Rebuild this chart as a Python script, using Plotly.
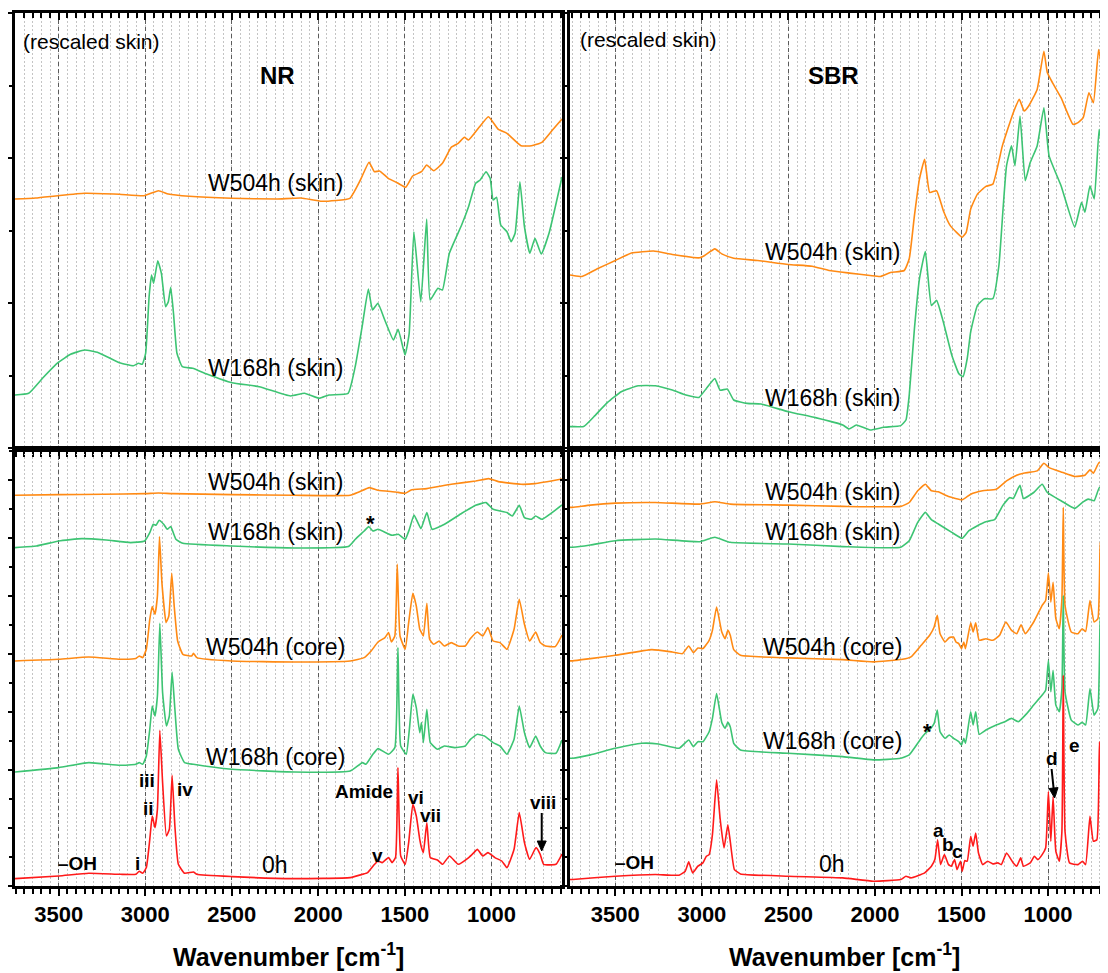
import math
import plotly.graph_objects as go

# ---------------- data: (wavenumber cm-1, absorbance a.u., stacked) ----------------
# NR, top panel (rescaled skin)
nr_top_w504 = [(3753, 250), (3634, 251), (3505, 253.3), (3351, 255.7), (3150, 254.7), (3008, 253.3), (2924, 258.3),
               (2867, 255), (2746, 252.7), (2500, 250.7), (2242, 250), (2100, 251), (1979, 247.7), (1818, 250.7),
               (1757, 269), (1707, 286.7), (1676, 277.3), (1646, 278), (1596, 270.7), (1545, 266.3), (1495, 261.7),
               (1455, 273), (1404, 277.3), (1374, 284), (1333, 278.3), (1283, 285.7), (1232, 301.7), (1192, 305.7),
               (1156, 311.7), (1132, 309), (1071, 321.7), (1017, 332.3), (960, 319.7), (910, 315.7), (829, 303.3),
               (768, 303.3), (708, 306.7), (647, 319), (592, 330)]
nr_top_w168 = [(3753, 54), (3674, 55.7), (3594, 70.7), (3505, 86.3), (3432, 94.7), (3351, 99), (3271, 96.3),
               (3150, 86.3), (3069, 83.3), (3039, 85.7), (3018, 84.7), (2998, 95.7), (2978, 152.3), (2964, 174),
               (2952, 165.7), (2928, 188.3), (2907, 175.7), (2883, 142.3), (2867, 147.3), (2853, 161.7),
               (2837, 135.7), (2817, 95.7), (2786, 82.3), (2726, 80.7), (2645, 75), (2500, 66.3), (2342, 62.3),
               (2161, 53), (2080, 55.7), (1995, 50.7), (1939, 54), (1828, 55.7), (1787, 82.3), (1747, 122.3),
               (1711, 160), (1687, 139), (1656, 145.7), (1616, 129), (1566, 109), (1539, 119.7), (1499, 94),
               (1475, 115.7), (1448, 217.3), (1408, 147.3), (1374, 230), (1354, 149), (1309, 160.7), (1283, 159),
               (1243, 195.7), (1172, 224), (1132, 242.3), (1091, 265.7), (1065, 269), (1031, 277.3), (1007, 270.7),
               (990, 249), (970, 251.7), (946, 224), (910, 217.3), (886, 207.3), (863, 215.7), (835, 267.3),
               (809, 222.3), (778, 195.7), (748, 210.7), (712, 195), (667, 215.7), (592, 272)]

# SBR, top panel (rescaled skin)
sbr_top_w504 = [(3762, 174), (3746, 173.5), (3693, 172.5), (3604, 180.2), (3500, 188.5), (3407, 196), (3279, 198),
                (3171, 194.5), (3013, 191.2), (2984, 193.5), (2925, 200.1), (2885, 195.1), (2816, 190.8),
                (2678, 188.5), (2501, 184.5), (2363, 182.8), (2265, 178.5), (2147, 175.9), (2028, 173.5),
                (1969, 172.5), (1910, 176.5), (1831, 178.5), (1802, 190.2), (1772, 233.3), (1743, 269.9),
                (1713, 289.8), (1684, 256.6), (1644, 258.3), (1605, 238.3), (1565, 223.4), (1496, 211.8),
                (1473, 216.7), (1447, 240), (1408, 254.9), (1359, 262.6), (1319, 264.9), (1264, 303.1),
                (1201, 336.3), (1166, 349.6), (1138, 338), (1112, 343), (1063, 359.6), (1024, 397.8), (1004, 376.2),
                (974, 366.2), (925, 351.3), (856, 324.7), (827, 326.4), (797, 331.3), (764, 356.3), (738, 346.3),
                (708, 399.5), (689, 382.8), (671, 396)]
sbr_top_w168 = [(3762, 22.4), (3746, 22.4), (3683, 22.4), (3624, 32.3), (3545, 46.6), (3466, 57.3), (3368, 63.2),
                (3269, 63.2), (3171, 58.9), (3092, 53.9), (3017, 51.6), (2974, 60.6), (2925, 70.5), (2895, 58.9),
                (2852, 59.9), (2816, 49), (2738, 45.6), (2659, 45), (2501, 37.3), (2344, 31.4), (2186, 24),
                (2150, 20), (2107, 24), (2028, 19), (1950, 21.7), (1851, 23.4), (1821, 29), (1802, 53.9),
                (1772, 120.4), (1743, 170.2), (1709, 197.5), (1674, 143.6), (1644, 148.6), (1605, 127),
                (1556, 93.8), (1516, 75.5), (1492, 72.2), (1467, 90.5), (1447, 117.1), (1408, 143.6), (1368, 150.3),
                (1319, 150.3), (1284, 183.5), (1260, 240), (1240, 283.2), (1211, 303.1), (1191, 283.2), (1162, 333),
                (1132, 268.2), (1103, 286.5), (1063, 303.1), (1024, 341.3), (994, 293.1), (925, 263.2),
                (846, 221.7), (807, 246.6), (787, 236.7), (758, 263.2), (733, 250), (705, 319.7), (683, 296.5),
                (671, 303)]

# NR, bottom panel
nr_bot_w504s = [(3753, 390.7), (3500, 391.4), (3246, 391.7), (3000, 392.4), (2924, 393), (2843, 392.4),
                (2500, 391.4), (2138, 390.7), (1816, 390.7), (1766, 394), (1705, 398.4), (1655, 395.7),
                (1554, 394), (1498, 392.7), (1464, 396), (1373, 397.4), (1232, 401.7), (1091, 405), (1016, 407.4),
                (960, 404.4), (829, 401.7), (748, 402.4), (592, 407)]
nr_bot_w168s = [(3753, 338.4), (3629, 340), (3500, 345), (3367, 347.4), (3226, 346), (3085, 343.4), (3004, 345),
                (2974, 353.4), (2954, 361.7), (2938, 360.7), (2920, 365.7), (2894, 361.7), (2873, 356.7),
                (2853, 359.4), (2823, 346.7), (2783, 342.7), (2500, 340), (2138, 338), (1826, 339.4), (1786, 346.7),
                (1735, 355), (1709, 359.4), (1685, 355), (1655, 356.7), (1574, 350.7), (1538, 351.7), (1498, 346.7),
                (1474, 356.7), (1447, 371), (1407, 357.4), (1373, 373.4), (1343, 356.7), (1271, 361.7),
                (1171, 372.7), (1091, 380.7), (1031, 383.4), (990, 376.7), (910, 373.4), (879, 370), (839, 380.7),
                (809, 368.4), (768, 366.7), (744, 370), (708, 366.7), (592, 381)]
nr_bot_w504c = [(3753, 225), (3500, 226.7), (3327, 229), (3145, 226.7), (3055, 227.4), (3035, 230), (3015, 228.4),
                (2994, 236.7), (2974, 266.7), (2960, 279.4), (2944, 271.7), (2930, 290), (2918, 349.4),
                (2904, 303.4), (2880, 263.4), (2864, 270), (2847, 312.7), (2833, 280), (2813, 245), (2783, 231.7),
                (2732, 230), (2722, 232.7), (2702, 228.4), (2500, 225), (2138, 224), (1816, 225), (1735, 228.4),
                (1695, 235), (1655, 244), (1615, 248.4), (1594, 253.4), (1578, 244), (1558, 250), (1544, 321.7),
                (1528, 250), (1498, 236.7), (1478, 263.4), (1454, 292.7), (1434, 280), (1414, 256.7),
                (1404, 253.4), (1393, 250), (1373, 282.7), (1357, 246.7), (1333, 241.7), (1302, 245), (1272, 240),
                (1232, 243.4), (1192, 240), (1151, 240), (1121, 247.4), (1081, 254), (1050, 250), (1020, 258.4),
                (990, 245), (950, 243.4), (910, 236.7), (869, 256.7), (839, 286.7), (809, 261.7), (779, 245),
                (744, 254), (718, 243.4), (688, 240), (631, 239.4), (592, 251)]
nr_bot_w168c = [(3753, 114), (3500, 118.4), (3327, 123.4), (3145, 120.7), (3055, 121.7), (3035, 123.4),
                (3015, 121.7), (2994, 130), (2974, 156.7), (2960, 180), (2944, 170), (2930, 190), (2916, 262.7),
                (2900, 193.4), (2878, 160), (2861, 170), (2845, 214), (2829, 176.7), (2809, 136.7), (2773, 123.4),
                (2722, 121.7), (2500, 116.7), (2138, 114), (1816, 115), (1745, 123.4), (1725, 121.7), (1685, 131.7),
                (1655, 137.4), (1594, 131.7), (1558, 138.4), (1540, 238.4), (1524, 140), (1492, 131.7),
                (1474, 156.7), (1454, 191.7), (1434, 178.4), (1414, 153.4), (1404, 163.4), (1393, 143.4),
                (1373, 176.7), (1353, 143.4), (1312, 136.7), (1272, 140), (1212, 138.4), (1151, 140), (1121, 146.7),
                (1081, 151.7), (1040, 150), (990, 143.4), (950, 140), (910, 131.7), (869, 146.7), (839, 180),
                (809, 153.4), (779, 138.4), (744, 150), (718, 140), (688, 133.4), (627, 132.7), (592, 146)]
nr_bot_0h = [(3753, 7.4), (3500, 10), (3327, 12.7), (3145, 11.7), (3055, 11.7), (3035, 14.7), (3015, 12.7),
             (2994, 18.4), (2974, 46.7), (2960, 70), (2944, 58.4), (2930, 76.7), (2916, 155.7), (2900, 103.4),
             (2878, 50), (2861, 56.7), (2845, 110.7), (2829, 60), (2809, 21.7), (2773, 12.7), (2722, 14),
             (2702, 11.7), (2500, 9.4), (2138, 7.4), (1816, 8.4), (1745, 11.7), (1715, 13.4), (1675, 21.7),
             (1655, 25), (1631, 23.4), (1594, 28.4), (1574, 23.4), (1554, 28.4), (1540, 118.4), (1524, 30),
             (1498, 21.7), (1478, 43.4), (1454, 81.7), (1434, 70), (1414, 46.7), (1404, 38.4), (1393, 33.4),
             (1373, 63.4), (1353, 28.4), (1312, 26), (1282, 21.7), (1242, 30), (1192, 21.7), (1131, 28.4),
             (1101, 33.4), (1081, 36.7), (1050, 30), (1020, 33.4), (980, 28.4), (940, 25), (910, 18.4),
             (869, 36.7), (839, 73.4), (809, 43.4), (779, 26.7), (742, 38.4), (718, 31.7), (698, 21.7),
             (627, 21.7), (592, 32)]

# SBR, bottom panel
sbr_bot_w504s = [(3762, 378.6), (3746, 378.6), (3644, 380.9), (3500, 382.9), (3269, 383.5), (3013, 381.9),
                 (2925, 384.2), (2836, 381.9), (2501, 380.9), (2186, 379.6), (1851, 379.6), (1802, 383.5),
                 (1753, 395.2), (1709, 401.8), (1674, 395.2), (1634, 394.2), (1575, 389.5), (1496, 386.2),
                 (1447, 391.8), (1378, 395.2), (1299, 396.8), (1240, 405.1), (1181, 410.8), (1142, 412.8),
                 (1063, 415.1), (1024, 422.7), (994, 418.4), (925, 414.1), (846, 409.5), (787, 410.8), (758, 416.1),
                 (738, 412.8), (705, 423.4), (671, 420.1)]
sbr_bot_w168s = [(3762, 338.7), (3746, 338.7), (3644, 341), (3500, 345.3), (3269, 347), (3013, 344.3),
                 (2925, 348.7), (2836, 343.7), (2501, 342), (2186, 339.4), (1851, 338.7), (1802, 345.3),
                 (1753, 363.6), (1709, 373.6), (1674, 366.3), (1634, 362), (1556, 353.6), (1496, 347.7),
                 (1457, 355.3), (1408, 360.3), (1359, 364.3), (1309, 366.3), (1260, 380.9), (1221, 388.5),
                 (1201, 387.5), (1177, 396.2), (1162, 400.8), (1142, 387.5), (1083, 393.5), (1034, 401.8),
                 (1004, 393.5), (925, 385.2), (846, 377.6), (797, 384.2), (768, 386.9), (734, 385.2), (703, 398.5),
                 (671, 393.5)]
sbr_bot_w504c = [(3762, 225.1), (3746, 225.1), (3644, 227.4), (3500, 230.7), (3289, 236.4), (3171, 234),
                 (3112, 232.4), (3076, 240), (3049, 233.4), (3023, 238), (2994, 237.4), (2958, 245.7),
                 (2939, 255.6), (2915, 278.9), (2885, 254), (2866, 247.3), (2850, 255.6), (2836, 250.7),
                 (2816, 236.4), (2777, 230.7), (2501, 228.1), (2186, 226.4), (2009, 224.1), (1841, 226.7),
                 (1792, 229.1), (1733, 240.7), (1684, 250.7), (1658, 259), (1640, 270.6), (1624, 252.3), (1595, 244),
                 (1571, 248.3), (1546, 249), (1532, 244), (1516, 242.4), (1500, 237.4), (1487, 244), (1477, 237.4),
                 (1447, 263.3), (1433, 254), (1418, 263.3), (1398, 245.7), (1359, 247.3), (1319, 245.7),
                 (1280, 250.7), (1244, 264), (1211, 255.6), (1181, 252.3), (1156, 261.3), (1132, 252.3), (1083, 264),
                 (1034, 280.6), (1014, 285.5), (998, 313.1), (984, 283.9), (971, 303.8), (955, 267.3), (935, 257.3),
                 (920, 287.2), (912, 378.6), (902, 280.6), (866, 254), (827, 252.3), (803, 257.3), (783, 254.6),
                 (758, 285.5), (734, 264), (712, 267.3), (699, 343.7), (683, 293.8), (671, 290.5)]
sbr_bot_w168c = [(3762, 127.7), (3746, 127.7), (3644, 131.1), (3500, 137.7), (3348, 142.7), (3250, 142),
                 (3132, 137.7), (3076, 146), (3049, 139.4), (3023, 144.3), (2994, 144.3), (2958, 154.3),
                 (2939, 167.6), (2915, 192.5), (2885, 163.6), (2866, 157.6), (2850, 163.6), (2836, 159.3),
                 (2816, 142.7), (2777, 136), (2501, 132.7), (2186, 129.4), (2009, 126.1), (1851, 127.7),
                 (1802, 131.1), (1733, 147.7), (1709, 152.7), (1678, 157.6), (1658, 162.6), (1640, 175.9),
                 (1624, 154.3), (1595, 147.7), (1571, 151), (1546, 147.7), (1516, 144.3), (1500, 141), (1487, 147.7),
                 (1477, 142.7), (1447, 174.2), (1433, 161), (1418, 174.2), (1398, 151.7), (1359, 156), (1299, 161),
                 (1250, 164.3), (1211, 167.6), (1172, 164.3), (1122, 172.6), (1083, 180.9), (1034, 190.9),
                 (1014, 195.8), (998, 225.7), (984, 194.2), (971, 215.8), (955, 180.9), (935, 174.2), (920, 197.5),
                 (912, 290.5), (902, 194.2), (866, 165.9), (827, 161), (803, 163.6), (783, 161), (758, 197.5),
                 (734, 170.9), (712, 177.6), (699, 268.9), (683, 204.1), (671, 200.8)]
sbr_bot_0h = [(3762, 6.5), (3746, 6.5), (3500, 9.8), (3269, 11.5), (3132, 10.8), (3096, 14.8), (3076, 24.1),
              (3053, 13.1), (3023, 19.8), (2994, 23.1), (2974, 29.7), (2958, 31.4), (2939, 51.3), (2915, 106.1),
              (2895, 68), (2872, 38), (2850, 61.3), (2836, 44.7), (2812, 16.4), (2777, 12.1), (2501, 9.8),
              (2186, 8.1), (2009, 4.8), (1851, 6.5), (1821, 9.8), (1792, 8.1), (1713, 13.1), (1674, 19.8),
              (1654, 26.4), (1638, 46.3), (1621, 21.4), (1599, 31.4), (1575, 21.4), (1559, 19.8), (1540, 26.4),
              (1526, 16.4), (1506, 24.8), (1496, 14.8), (1481, 25.4), (1467, 24.8), (1447, 49.7), (1433, 39.7),
              (1418, 53), (1402, 33), (1378, 21.4), (1349, 24.8), (1319, 22.1), (1290, 23.1), (1270, 21.4),
              (1240, 33), (1201, 23.1), (1181, 19.8), (1158, 28.1), (1142, 19.8), (1103, 23.1), (1079, 29.7),
              (1059, 26.4), (1034, 31.4), (1014, 38), (998, 94.5), (984, 44.7), (971, 89.5), (955, 34.7),
              (935, 24.8), (920, 54.6), (912, 210.8), (902, 54.6), (876, 23.1), (827, 21.4), (801, 24.8),
              (783, 21.4), (758, 69.6), (738, 44.7), (718, 46.3), (703, 144.3), (685, 74.6), (671, 71.3)]

x_tick_values = [3500, 3000, 2500, 2000, 1500, 1000]
x_tick_labels = ["3500", "3000", "2500", "2000", "1500", "1000"]

# ---------------- styling ----------------
# the page body has an 8 px margin; the figure is sized/positioned to compensate
OFF = 8
W, H = 1100, 965
FONT = "Liberation Sans, Arial, sans-serif"
ORANGE = "#FF8A14"
GREEN = "#3DC473"
RED = "#FF1A1A"


def px_x(X):
    return (X - OFF) / W


def px_y(Y):
    return 1 - (Y - OFF) / H


L_DOM = [px_x(14), px_x(562)]
R_DOM = [px_x(570), px_x(1106)]
T_DOM = [px_y(449), px_y(13)]
B_DOM = [px_y(886), px_y(449)]
L_RANGE = [3753, 592]
R_RANGE = [3762, 671]

fig = go.Figure()


def add_spec(pairs, color, xa, ya):
    fig.add_trace(go.Scatter(x=[p[0] for p in pairs], y=[p[1] for p in pairs], mode="lines",
                             line=dict(color=color, width=1.6, shape="spline", smoothing=0.4),
                             xaxis=xa, yaxis=ya, hoverinfo="skip"))


# top-left (x, y), top-right (x2, y2), bottom-left (x3, y3), bottom-right (x4, y4)
add_spec(nr_top_w504, ORANGE, "x", "y")
add_spec(nr_top_w168, GREEN, "x", "y")
add_spec(sbr_top_w504, ORANGE, "x2", "y2")
add_spec(sbr_top_w168, GREEN, "x2", "y2")
for pairs, col in [(nr_bot_w504s, ORANGE), (nr_bot_w168s, GREEN), (nr_bot_w504c, ORANGE),
                   (nr_bot_w168c, GREEN), (nr_bot_0h, RED)]:
    add_spec(pairs, col, "x3", "y3")
for pairs, col in [(sbr_bot_w504s, ORANGE), (sbr_bot_w168s, GREEN), (sbr_bot_w504c, ORANGE),
                   (sbr_bot_w168c, GREEN), (sbr_bot_0h, RED)]:
    add_spec(pairs, col, "x4", "y4")

# invisible traces so the overlay (top tick) axes are drawn
for xa, ya, rng in [("x5", "y", L_RANGE), ("x6", "y2", R_RANGE), ("x7", "y3", L_RANGE), ("x8", "y4", R_RANGE)]:
    fig.add_trace(go.Scatter(x=rng, y=[-1000, -1000], mode="lines", line=dict(width=0),
                             xaxis=xa, yaxis=ya, hoverinfo="skip", showlegend=False))


def xax(dom, rng, anchor, labels):
    return dict(domain=dom, range=rng, anchor=anchor, showline=True, linewidth=2.5, linecolor="black",
                mirror=True, ticks="outside", ticklen=7, tickwidth=2, tickcolor="black",
                tickmode="array", tickvals=x_tick_values, ticktext=x_tick_labels,
                showticklabels=labels, ticklabelstandoff=0,
                tickfont=dict(family=FONT, size=22, color="black", weight="bold"),
                showgrid=True, gridcolor="#5c5c5c", gridwidth=1, griddash="4px,3px", zeroline=False,
                minor=dict(tick0=0, dtick=50, ticks="outside", ticklen=5, tickwidth=1.5, tickcolor="black",
                           showgrid=True, gridcolor="#c4c4c4", gridwidth=1, griddash="2px,2px"),
                fixedrange=True)


def xtop(overlay, rng, anchor):
    return dict(overlaying=overlay, side="top", range=rng, anchor=anchor, showline=False, showgrid=False,
                zeroline=False, ticks="inside", ticklen=7, tickwidth=2, tickcolor="black",
                tickmode="array", tickvals=x_tick_values, showticklabels=False,
                minor=dict(tick0=0, dtick=50, ticks="inside", ticklen=5, tickwidth=1.5, tickcolor="black",
                           showgrid=False),
                fixedrange=True)


def yax(dom, anchor, top):
    if top:
        rng, t0, dt, mdt = [0, 436], 1, 145, 72.5
    else:
        rng, t0, dt, mdt = [0, 437], 0, 58, 29
    return dict(domain=dom, range=rng, anchor=anchor, showline=True, linewidth=2.5, linecolor="black",
                mirror=True, ticks="outside", ticklen=7, tickwidth=2, tickcolor="black",
                tick0=t0, dtick=dt, showticklabels=False, showgrid=False, zeroline=False,
                minor=dict(tick0=t0, dtick=mdt, ticks="outside", ticklen=3, tickwidth=2, tickcolor="black",
                           showgrid=False),
                fixedrange=True)


fig.update_layout(
    width=W, height=H, margin=dict(l=0, r=0, t=0, b=0), autosize=False,
    paper_bgcolor="white", plot_bgcolor="white", showlegend=False, hovermode=False,
    xaxis=xax(L_DOM, L_RANGE, "y", False),
    xaxis2=xax(R_DOM, R_RANGE, "y2", False),
    xaxis3=xax(L_DOM, L_RANGE, "y3", True),
    xaxis4=xax(R_DOM, R_RANGE, "y4", True),
    xaxis5=xtop("x", L_RANGE, "y"),
    xaxis6=xtop("x2", R_RANGE, "y2"),
    xaxis7=xtop("x3", L_RANGE, "y3"),
    xaxis8=xtop("x4", R_RANGE, "y4"),
    yaxis=yax(T_DOM, "x", True),
    yaxis2=yax(T_DOM, "x2", True),
    yaxis3=yax(B_DOM, "x3", False),
    yaxis4=yax(B_DOM, "x4", False),
)


def lab(x, y, text, size=23, bold=False, xanchor="center"):
    return dict(x=px_x(x), y=px_y(y), xref="paper", yref="paper", text=text, showarrow=False,
                xanchor=xanchor, yanchor="middle",
                font=dict(family=FONT, size=size, color="black", weight="bold" if bold else "normal"))


def arrow_shapes(tipx, tipy, tailx, taily, head_len=10, half_w=4.5):
    dx, dy = tipx - tailx, tipy - taily
    n = math.hypot(dx, dy)
    ux, uy = dx / n, dy / n
    bx, by = tipx - ux * head_len, tipy - uy * head_len
    px_, py_ = -uy, ux
    p1 = (bx + px_ * half_w, by + py_ * half_w)
    p2 = (bx - px_ * half_w, by - py_ * half_w)
    line = dict(type="line", xref="paper", yref="paper", x0=px_x(tailx), y0=px_y(taily),
                x1=px_x(bx + ux * 1), y1=px_y(by + uy * 1), line=dict(color="black", width=2))
    path = "M {} {} L {} {} L {} {} Z".format(px_x(tipx), px_y(tipy), px_x(p1[0]), px_y(p1[1]),
                                             px_x(p2[0]), px_y(p2[1]))
    head = dict(type="path", xref="paper", yref="paper", path=path, fillcolor="black",
                line=dict(color="black", width=1))
    return [line, head]


ann = [
    # top-left
    lab(20.5, 42, "(rescaled skin)", 21, xanchor="left"),
    lab(277, 75, "NR", 24, True),
    lab(274.5, 183, "W504h (skin)"),
    lab(274.5, 368, "W168h (skin)"),
    # top-right
    lab(578.5, 40, "(rescaled skin)", 21, xanchor="left"),
    lab(834, 75, "SBR", 24, True),
    lab(832.5, 252, "W504h (skin)"),
    lab(832.5, 398, "W168h (skin)"),
    # bottom-left
    lab(274.5, 482, "W504h (skin)"),
    lab(274.5, 532, "W168h (skin)"),
    lab(370.6, 523, "*", 22, True),
    lab(275, 647, "W504h (core)"),
    lab(275, 757, "W168h (core)"),
    lab(146.5, 780, "iii", 19, True),
    lab(148, 808, "ii", 19, True),
    lab(184.5, 789, "iv", 19, True),
    lab(363.5, 791, "Amide", 19, True),
    lab(416, 797, "vi", 19, True),
    lab(430.5, 815.5, "vii", 19, True),
    lab(542.5, 802, "viii", 19, True),
    lab(377.5, 855, "v", 19, True),
    lab(136.5, 863, "i", 19, True),
    lab(77, 863, "–OH", 19, True),
    lab(274.5, 865, "0h"),
    # bottom-right
    lab(832.5, 492, "W504h (skin)"),
    lab(832.5, 532, "W168h (skin)"),
    lab(832.5, 647, "W504h (core)"),
    lab(832.5, 741, "W168h (core)"),
    lab(928, 731, "*", 22, True),
    lab(635, 862.5, "–OH", 19, True),
    lab(832.5, 864, "0h"),
    lab(939, 830, "a", 19, True),
    lab(949, 844, "b", 19, True),
    lab(958.5, 851.5, "c", 19, True),
    lab(1052.5, 758, "d", 19, True),
    lab(1075, 745, "e", 19, True),
    # axis titles
    lab(288, 955, "Wavenumber [cm<sup>-1</sup>]", 25, True),
    lab(845, 955, "Wavenumber [cm<sup>-1</sup>]", 25, True),
]
shapes = arrow_shapes(541.7, 851, 541.7, 813) + arrow_shapes(1055.5, 798, 1052.5, 769)
fig.update_layout(annotations=ann, shapes=shapes)

fig.write_html("out.html")
